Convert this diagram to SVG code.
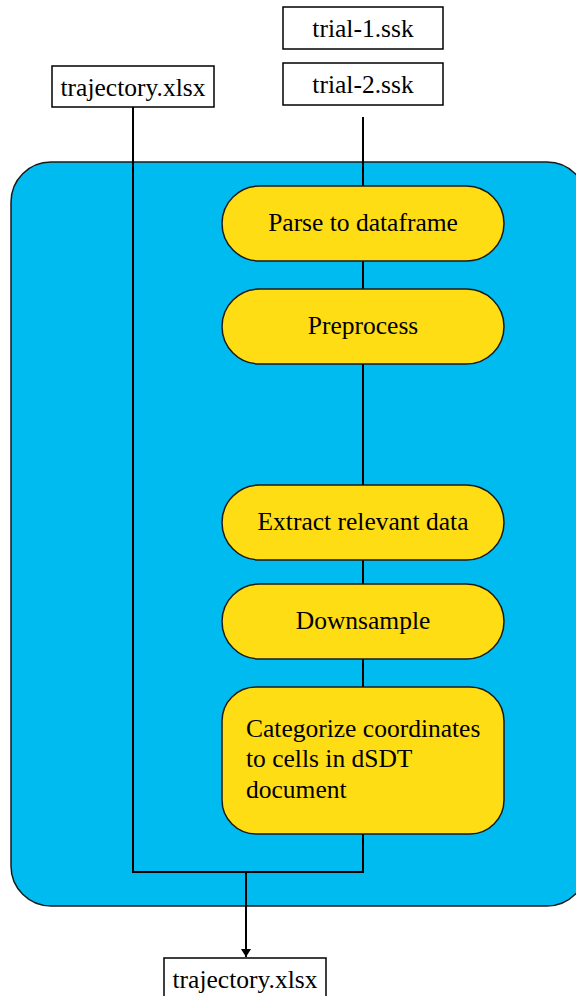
<svg xmlns="http://www.w3.org/2000/svg" width="576" height="996" viewBox="0 0 576 996">
  <style>
    .file { fill: #ffffff; stroke: #000000; stroke-width: 1.5; }
    .step { fill: #ffdd15; stroke: #1a1a1a; stroke-width: 1.5; }
    .panel { fill: #00bbf0; stroke: #1a1a1a; stroke-width: 1.5; }
    text { font-family: 'Liberation Serif', 'Times New Roman', Times, serif; font-size: 25.5px; fill: #000000; }
    .mid { text-anchor: middle; }
    .wire { fill: none; stroke: #000000; stroke-width: 2; }
  </style>
  <defs>
    <marker id="arrow" viewBox="0 0 10 10" refX="10" refY="5" markerWidth="8" markerHeight="10" markerUnits="userSpaceOnUse" orient="auto" preserveAspectRatio="none">
      <path d="M0,0 L10,5 L0,10 Z" fill="#000000"/>
    </marker>
  </defs>

  <!-- processing panel -->
  <rect id="panel" class="panel" x="11" y="162" width="576" height="744" rx="40" ry="40"/>

  <!-- connectors -->
  <g id="connectors">
    <line class="wire" x1="363" y1="117" x2="363" y2="186"/>
    <line class="wire" x1="363" y1="261" x2="363" y2="289"/>
    <line class="wire" x1="363" y1="364" x2="363" y2="485"/>
    <line class="wire" x1="363" y1="560" x2="363" y2="584"/>
    <line class="wire" x1="363" y1="659" x2="363" y2="687"/>
    <polyline class="wire" points="133,107 133,872 363,872 363,834"/>
    <line class="wire" x1="246" y1="872" x2="246" y2="957" marker-end="url(#arrow)"/>
  </g>

  <!-- input files -->
  <g id="trial1">
    <rect class="file" x="283" y="7" width="160" height="42"/>
    <text class="mid" x="363" y="37">trial-1.ssk</text>
  </g>
  <g id="trial2">
    <rect class="file" x="283" y="63" width="160" height="42"/>
    <text class="mid" x="363" y="93">trial-2.ssk</text>
  </g>
  <g id="trajectory-in">
    <rect class="file" x="52" y="66" width="162" height="41"/>
    <text class="mid" x="133" y="96">trajectory.xlsx</text>
  </g>

  <!-- processing steps -->
  <g id="parse">
    <rect class="step" x="222" y="186" width="282" height="75" rx="37.5" ry="37.5"/>
    <text class="mid" x="363" y="231">Parse to dataframe</text>
  </g>
  <g id="preprocess">
    <rect class="step" x="222" y="289" width="282" height="75" rx="37.5" ry="37.5"/>
    <text class="mid" x="363" y="334">Preprocess</text>
  </g>
  <g id="extract">
    <rect class="step" x="222" y="485" width="282" height="75" rx="37.5" ry="37.5"/>
    <text class="mid" x="363" y="530">Extract relevant data</text>
  </g>
  <g id="downsample">
    <rect class="step" x="222" y="584" width="282" height="75" rx="37.5" ry="37.5"/>
    <text class="mid" x="363" y="629">Downsample</text>
  </g>
  <g id="categorize">
    <rect class="step" x="222" y="687" width="282" height="147" rx="34" ry="34"/>
    <text x="246" y="737">Categorize coordinates</text>
    <text x="246" y="767">to cells in dSDT</text>
    <text x="246" y="798">document</text>
  </g>

  <!-- output file -->
  <g id="trajectory-out">
    <rect class="file" x="164" y="958" width="162" height="44"/>
    <text class="mid" x="245" y="988">trajectory.xlsx</text>
  </g>
</svg>
